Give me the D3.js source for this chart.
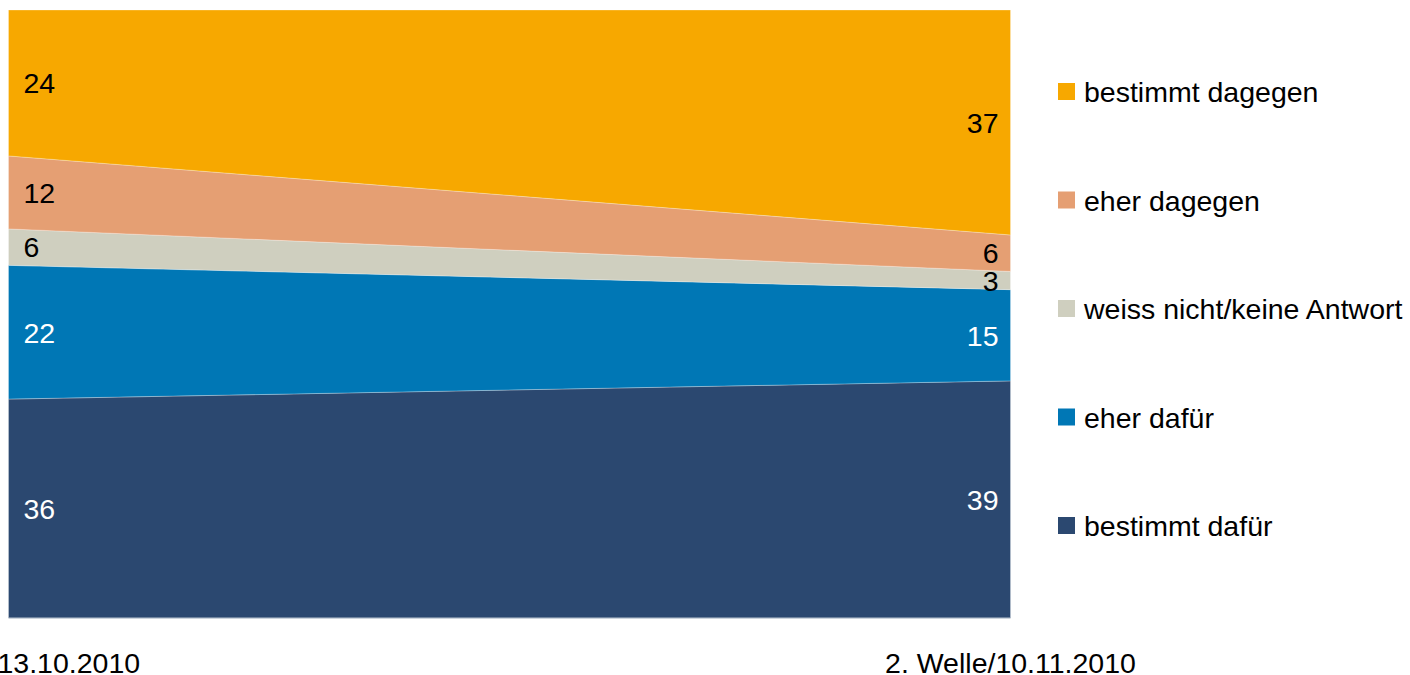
<!DOCTYPE html>
<html><head><meta charset="utf-8">
<script src="https://cdn.jsdelivr.net/npm/d3@7"></script>
<style>
html,body{margin:0;padding:0;background:#fff;}
svg{display:block;font-family:"Liberation Sans",Arial,sans-serif;}
</style></head>
<body>
<svg id="chart" width="1410" height="675"></svg>
<script>
const waves = ["13.10.2010", "2. Welle/10.11.2010"];
const seriesNames = ["bestimmt dafür", "eher dafür", "weiss nicht/keine Antwort", "eher dagegen", "bestimmt dagegen"];
const bestimmtDafuer = [36, 39];
const eherDafuer = [22, 15];
const weissNicht = [6, 3];
const eherDagegen = [12, 6];
const bestimmtDagegen = [24, 37];
const colors = ["#2B4870", "#0077B5", "#CFCFBF", "#E59F73", "#F7A800"];
const labelColors = ["#fff", "#fff", "#000", "#000", "#000"];

(function () {
const rows = waves.map((w, i) => ({
  wave: i,
  "bestimmt dafür": bestimmtDafuer[i],
  "eher dafür": eherDafuer[i],
  "weiss nicht/keine Antwort": weissNicht[i],
  "eher dagegen": eherDagegen[i],
  "bestimmt dagegen": bestimmtDagegen[i]
}));

const svg = d3.select("#chart");
const mLeft = 8.5, mRight = 1010.5, mTop = 10, mBottom = 618;
const fs = 28.5;
const x = d3.scaleLinear().domain([0, 1]).range([mLeft, mRight]);
const y = d3.scaleLinear().domain([0, 100]).range([mBottom, mTop]);

const stack = d3.stack().keys(seriesNames);
const layers = stack(rows);

const area = d3.area()
  .x(d => x(d.data.wave))
  .y0(d => y(d[0]))
  .y1(d => y(d[1]));

svg.append("g").selectAll("path").data(layers).join("path")
  .attr("d", area)
  .attr("fill", (d, i) => colors[i])
  .attr("stroke", "rgba(255,255,255,0.35)")
  .attr("stroke-width", 0.8);

svg.append("line").attr("x1", mLeft).attr("x2", mRight).attr("y1", mBottom).attr("y2", mBottom)
  .attr("stroke", "#9aaabb").attr("stroke-width", 1);

const lab = svg.append("g").attr("font-size", fs);
layers.forEach((layer, i) => {
  layer.forEach((d, j) => {
    const cy = (y(d[0]) + y(d[1])) / 2;
    lab.append("text")
      .attr("x", j === 0 ? x(0) + 15 : x(1) - 12)
      .attr("y", cy)
      .attr("dy", "0.36em")
      .attr("text-anchor", j === 0 ? "start" : "end")
      .attr("fill", labelColors[i])
      .text(d[1] - d[0]);
  });
});

svg.append("text").attr("x", x(0) - 11).attr("y", 663).attr("dy", "0.36em")
  .attr("font-size", fs).attr("text-anchor", "start").text(waves[0]);
svg.append("text").attr("x", x(1)).attr("y", 663).attr("dy", "0.36em")
  .attr("font-size", fs).attr("text-anchor", "middle").text(waves[1]);

const legendOrder = seriesNames.map((n, i) => i).reverse();
const lg = svg.append("g");
legendOrder.forEach((si, k) => {
  const cy = 92 + k * 108.5;
  lg.append("rect").attr("x", 1058).attr("y", cy - 9).attr("width", 17).attr("height", 17)
    .attr("fill", colors[si]);
  lg.append("text").attr("x", 1084).attr("y", cy).attr("dy", "0.36em")
    .attr("font-size", fs).attr("fill", "#000").text(seriesNames[si]);
});
})();
</script>
</body></html>
